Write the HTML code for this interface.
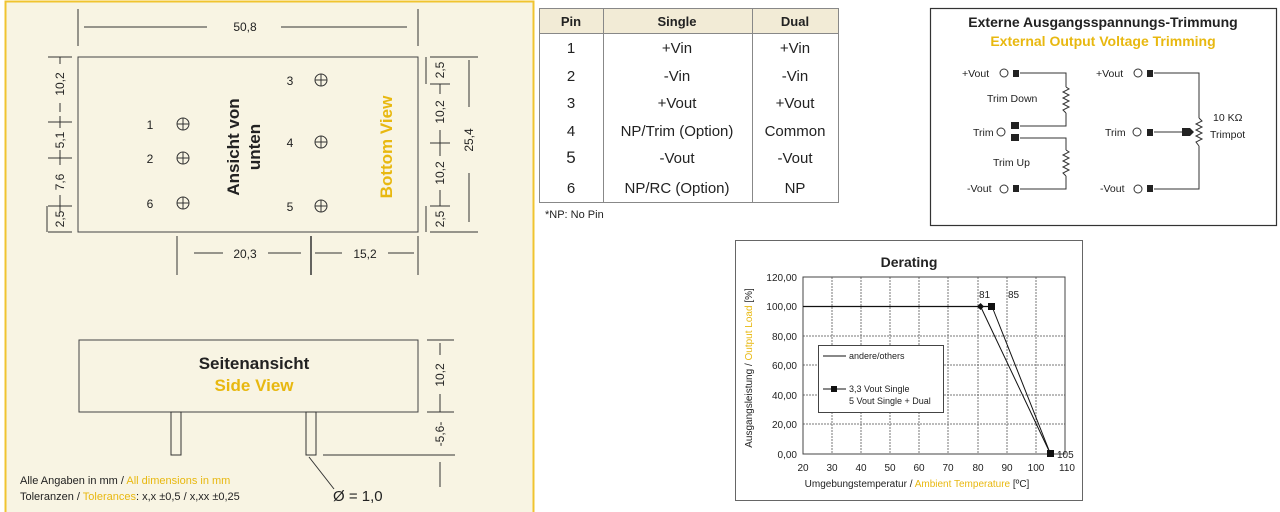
<!DOCTYPE html>
<html><head><meta charset="utf-8"><style>
html,body{margin:0;padding:0;background:#fff;}
svg{display:block;font-family:"Liberation Sans",Arial,sans-serif;}
</style></head><body>
<svg width="1280" height="512" viewBox="0 0 1280 512" xmlns="http://www.w3.org/2000/svg">
<!-- LEFT PANEL -->
<rect x="5.5" y="1.5" width="528" height="515" fill="#f8f4e3" stroke="#f0c430" stroke-width="2"/>
<g stroke="#333" stroke-width="1" fill="none">
 <!-- top dimension -->
 <line x1="78" y1="9" x2="78" y2="46"/><line x1="418" y1="9" x2="418" y2="46"/>
 <line x1="84" y1="27" x2="207" y2="27"/><line x1="281" y1="27" x2="407" y2="27"/>
 <!-- bottom view rect -->
 <rect x="78" y="57" width="340" height="175" stroke="#444"/>
 <!-- left dims -->
 <line x1="48" y1="57" x2="72" y2="57"/><line x1="48" y1="122" x2="72" y2="122"/><line x1="48" y1="158" x2="72" y2="158"/><line x1="48" y1="206" x2="72" y2="206"/><line x1="48" y1="232" x2="72" y2="232"/>
 <line x1="60" y1="57" x2="60" y2="64"/><line x1="60" y1="103" x2="60" y2="112"/>
 <line x1="60" y1="116" x2="60" y2="128"/><line x1="60" y1="150" x2="60" y2="165"/>
 <line x1="60" y1="195" x2="60" y2="212"/>
 <line x1="47" y1="206" x2="47" y2="232"/>
 <!-- right dims -->
 <line x1="430" y1="57" x2="478" y2="57"/><line x1="430" y1="232" x2="478" y2="232"/>
 <line x1="430" y1="84" x2="450" y2="84"/><line x1="430" y1="143" x2="450" y2="143"/><line x1="430" y1="206" x2="450" y2="206"/>
 <line x1="426" y1="57" x2="426" y2="84"/><line x1="426" y1="206" x2="426" y2="232"/>
 <line x1="440" y1="84" x2="440" y2="94"/><line x1="440" y1="130" x2="440" y2="156"/><line x1="440" y1="190" x2="440" y2="206"/>
 <line x1="469" y1="60" x2="469" y2="107"/><line x1="469" y1="173" x2="469" y2="222"/>
 <!-- bottom dims -->
 <line x1="177" y1="236" x2="177" y2="275"/><line x1="311" y1="236" x2="311" y2="275" stroke-width="1.5"/><line x1="418" y1="236" x2="418" y2="275"/>
 <line x1="194" y1="253" x2="223" y2="253"/><line x1="268" y1="253" x2="301" y2="253"/>
 <line x1="315" y1="253" x2="342" y2="253"/><line x1="388" y1="253" x2="414" y2="253"/>
 <!-- side view -->
 <rect x="79" y="340" width="339" height="72" stroke="#444"/>
 <rect x="171" y="412" width="10" height="43"/><rect x="306" y="412" width="10" height="43"/>
 <line x1="427" y1="340" x2="454" y2="340"/><line x1="427" y1="412" x2="454" y2="412"/>
 <line x1="323" y1="455" x2="455" y2="455"/>
 <line x1="440" y1="343" x2="440" y2="355"/><line x1="440" y1="394" x2="440" y2="412"/>
 <line x1="440" y1="462" x2="440" y2="487"/>
 <line x1="309" y1="457" x2="334" y2="489"/>
</g>
<!-- pin circles -->
<g stroke="#333" fill="none" stroke-width="1">
 <circle cx="183" cy="124" r="6"/><line x1="177" y1="124" x2="189" y2="124"/><line x1="183" y1="118" x2="183" y2="130"/>
 <circle cx="183" cy="158" r="6"/><line x1="177" y1="158" x2="189" y2="158"/><line x1="183" y1="152" x2="183" y2="164"/>
 <circle cx="183" cy="203" r="6"/><line x1="177" y1="203" x2="189" y2="203"/><line x1="183" y1="197" x2="183" y2="209"/>
 <circle cx="321" cy="80" r="6"/><line x1="315" y1="80" x2="327" y2="80"/><line x1="321" y1="74" x2="321" y2="86"/>
 <circle cx="321" cy="142" r="6"/><line x1="315" y1="142" x2="327" y2="142"/><line x1="321" y1="136" x2="321" y2="148"/>
 <circle cx="321" cy="206" r="6"/><line x1="315" y1="206" x2="327" y2="206"/><line x1="321" y1="200" x2="321" y2="212"/>
</g>
<g font-size="12" fill="#222">
 <text x="245" y="31" text-anchor="middle">50,8</text>
 <text x="150" y="129" text-anchor="middle">1</text><text x="150" y="163" text-anchor="middle">2</text><text x="150" y="208" text-anchor="middle">6</text>
 <text x="290" y="85" text-anchor="middle">3</text><text x="290" y="147" text-anchor="middle">4</text><text x="290" y="211" text-anchor="middle">5</text>
 <text x="245" y="258" text-anchor="middle">20,3</text><text x="365" y="258" text-anchor="middle">15,2</text>
 <text transform="translate(64,84) rotate(-90)" text-anchor="middle">10,2</text>
 <text transform="translate(64,140) rotate(-90)" text-anchor="middle">5,1</text>
 <text transform="translate(64,182) rotate(-90)" text-anchor="middle">7,6</text>
 <text transform="translate(64,219) rotate(-90)" text-anchor="middle">2,5</text>
 <text transform="translate(444,70) rotate(-90)" text-anchor="middle">2,5</text>
 <text transform="translate(444,112) rotate(-90)" text-anchor="middle">10,2</text>
 <text transform="translate(444,173) rotate(-90)" text-anchor="middle">10,2</text>
 <text transform="translate(444,219) rotate(-90)" text-anchor="middle">2,5</text>
 <text transform="translate(473,140) rotate(-90)" text-anchor="middle">25,4</text>
 <text transform="translate(444,375) rotate(-90)" text-anchor="middle">10,2</text>
 <text transform="translate(444,434) rotate(-90)" text-anchor="middle">-5,6-</text>
</g>
<g font-weight="bold" font-size="17" text-anchor="middle">
 <text transform="translate(239,147) rotate(-90)" fill="#222">Ansicht von</text>
 <text transform="translate(260,147) rotate(-90)" fill="#222">unten</text>
 <text transform="translate(392,147) rotate(-90)" fill="#e8b810">Bottom View</text>
 <text x="254" y="369" fill="#222">Seitenansicht</text>
 <text x="254" y="391" fill="#e8b810">Side View</text>
</g>
<g font-size="11" fill="#222">
 <text x="20" y="484">Alle Angaben in mm / <tspan fill="#e8b810">All dimensions in mm</tspan></text>
 <text x="20" y="500">Toleranzen / <tspan fill="#e8b810">Tolerances</tspan>: x,x ±0,5 / x,xx ±0,25</text>
</g>
<text x="333" y="501" font-size="15" fill="#222">Ø = 1,0</text>

<!-- TABLE -->
<rect x="539" y="9" width="299" height="24" fill="#f2ebd6"/>
<g stroke="#888" fill="none" stroke-width="1">
 <rect x="539.5" y="8.5" width="299" height="194"/>
 <line x1="539" y1="33.5" x2="838" y2="33.5"/>
 <line x1="603.5" y1="9" x2="603.5" y2="202"/><line x1="752.5" y1="9" x2="752.5" y2="202"/>
</g>
<g font-size="15" fill="#222" text-anchor="middle">
 <text x="571" y="26" font-weight="bold" font-size="13">Pin</text><text x="677" y="26" font-weight="bold" font-size="13">Single</text><text x="795" y="26" font-weight="bold" font-size="13">Dual</text>
 <text x="571" y="53">1</text><text x="677" y="53">+Vin</text><text x="795" y="53">+Vin</text>
 <text x="571" y="81">2</text><text x="677" y="81">-Vin</text><text x="795" y="81">-Vin</text>
 <text x="571" y="108">3</text><text x="677" y="108">+Vout</text><text x="795" y="108">+Vout</text>
 <text x="571" y="136">4</text><text x="677" y="136">NP/Trim (Option)</text><text x="795" y="136">Common</text>
 <text x="571" y="163" font-size="17">5</text><text x="677" y="163">-Vout</text><text x="795" y="163">-Vout</text>
 <text x="571" y="193">6</text><text x="677" y="193">NP/RC (Option)</text><text x="795" y="193">NP</text>
</g>
<text x="545" y="218" font-size="11" fill="#222">*NP: No Pin</text>

<!-- TRIMMING -->
<rect x="930.5" y="8.5" width="346" height="217" fill="#fff" stroke="#333" stroke-width="1.2"/>
<text x="1103" y="27" font-size="14" font-weight="bold" text-anchor="middle" fill="#222">Externe Ausgangsspannungs-Trimmung</text>
<text x="1103" y="46" font-size="14" font-weight="bold" text-anchor="middle" fill="#e8b810">External Output Voltage Trimming</text>
<g font-size="10.5" fill="#222">
 <text x="962" y="77">+Vout</text><text x="973" y="136">Trim</text><text x="967" y="192">-Vout</text>
 <text x="987" y="102">Trim Down</text><text x="993" y="166">Trim Up</text>
 <text x="1096" y="77">+Vout</text><text x="1105" y="136">Trim</text><text x="1100" y="192">-Vout</text>
 <text x="1213" y="121">10 KΩ</text><text x="1210" y="138">Trimpot</text>
</g>
<g stroke="#333" fill="none" stroke-width="1">
 <circle cx="1004" cy="73" r="4"/><circle cx="1001" cy="132" r="4"/><circle cx="1004" cy="189" r="4"/>
 <circle cx="1138" cy="73" r="4"/><circle cx="1137" cy="132" r="4"/><circle cx="1138" cy="189" r="4"/>
 <polyline points="1020,73 1066,73 1066,87"/><polyline points="1066,87 1069,89 1063,92 1069,95 1063,98 1069,101 1063,104 1069,107 1063,110 1066,113"/><polyline points="1066,113 1066,126 1020,126"/>
 <polyline points="1020,138 1066,138 1066,150"/><polyline points="1066,150 1069,152 1063,155 1069,158 1063,161 1069,164 1063,167 1069,170 1063,173 1066,176"/><polyline points="1066,176 1066,189 1020,189"/>
 <polyline points="1154,73 1199,73 1199,118"/><polyline points="1199,118 1202,121 1196,124 1202,127 1196,130 1202,133 1196,136 1202,139 1196,142 1199,146"/><polyline points="1199,146 1199,189 1154,189"/>
 <line x1="1154" y1="132" x2="1183" y2="132"/>
</g>
<g fill="#222">
 <rect x="1013" y="70" width="6" height="7"/><rect x="1011" y="122" width="8" height="7"/><rect x="1011" y="134" width="8" height="7"/><rect x="1013" y="185" width="6" height="7"/>
 <rect x="1147" y="70" width="6" height="7"/><rect x="1147" y="129" width="6" height="7"/><rect x="1147" y="185" width="6" height="7"/>
 <polygon points="1182,128 1190,128 1194,132 1190,136 1182,136"/>
</g>

<!-- DERATING -->
<rect x="735.5" y="240.5" width="347" height="260" fill="#fff" stroke="#666"/>
<text x="909" y="267" font-size="14" font-weight="bold" text-anchor="middle" fill="#222">Derating</text>
<g stroke="#777" stroke-width="1" stroke-dasharray="2,1">
 <line x1="832" y1="277" x2="832" y2="454"/><line x1="861" y1="277" x2="861" y2="454"/><line x1="890" y1="277" x2="890" y2="454"/><line x1="919" y1="277" x2="919" y2="454"/><line x1="948" y1="277" x2="948" y2="454"/><line x1="978" y1="277" x2="978" y2="454"/><line x1="1007" y1="277" x2="1007" y2="454"/><line x1="1036" y1="277" x2="1036" y2="454"/>
 <line x1="803" y1="336" x2="1065" y2="336"/><line x1="803" y1="365" x2="1065" y2="365"/><line x1="803" y1="395" x2="1065" y2="395"/><line x1="803" y1="424" x2="1065" y2="424"/>
</g>
<rect x="803" y="277" width="262" height="177" fill="none" stroke="#444"/>
<line x1="803" y1="306.5" x2="992" y2="306.5" stroke="#111" stroke-width="1.3"/>
<polyline points="980.6,306.5 1050.5,454" fill="none" stroke="#111" stroke-width="1"/>
<polyline points="992,306.5 1050.5,454" fill="none" stroke="#111" stroke-width="1"/>
<rect x="988" y="303" width="7" height="7" fill="#111"/><rect x="1047" y="450" width="7" height="7" fill="#111"/>
<polygon points="977,306.5 980.6,303 984,306.5 980.6,310" fill="#111"/>
<rect x="818.5" y="345.5" width="125" height="67" fill="#fff" stroke="#444"/>
<line x1="823" y1="356" x2="846" y2="356" stroke="#111"/><line x1="823" y1="389" x2="846" y2="389" stroke="#111"/><rect x="831" y="386" width="6" height="6" fill="#111"/>
<g font-size="9" fill="#222">
 <text x="849" y="359">andere/others</text><text x="849" y="392">3,3 Vout Single</text><text x="849" y="404">5 Vout Single + Dual</text>
</g>
<g font-size="10" fill="#222">
 <text x="979" y="298">81</text><text x="1008" y="298">85</text><text x="1057" y="458">105</text>
 <g text-anchor="end"><text x="797" y="281">120,00</text><text x="797" y="310">100,00</text><text x="797" y="340">80,00</text><text x="797" y="369">60,00</text><text x="797" y="399">40,00</text><text x="797" y="428">20,00</text><text x="797" y="458">0,00</text></g>
 <g text-anchor="middle"><text x="803" y="471">20</text><text x="832" y="471">30</text><text x="861" y="471">40</text><text x="890" y="471">50</text><text x="919" y="471">60</text><text x="948" y="471">70</text><text x="978" y="471">80</text><text x="1007" y="471">90</text><text x="1036" y="471">100</text><text x="1067" y="471">110</text></g>
 <text x="917" y="487" text-anchor="middle">Umgebungstemperatur / <tspan fill="#e8b810">Ambient Temperature</tspan> [ºC]</text>
 <text transform="translate(752,368) rotate(-90)" text-anchor="middle">Ausgangsleistung / <tspan fill="#e8b810">Output Load</tspan> [%]</text>
</g>
</svg>
</body></html>
